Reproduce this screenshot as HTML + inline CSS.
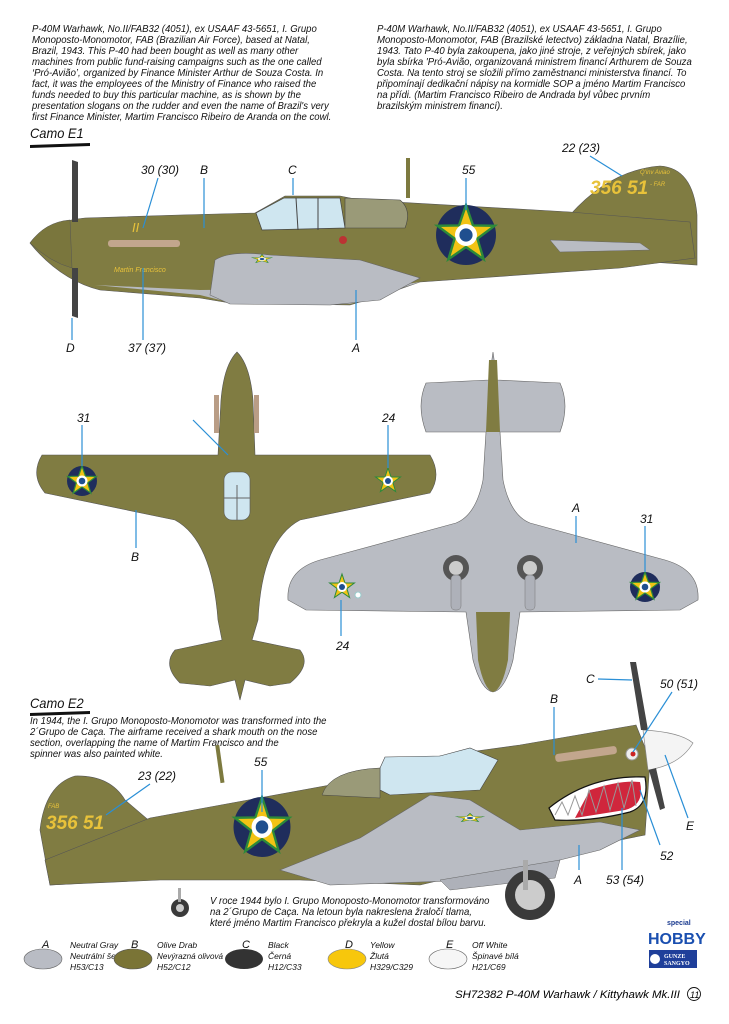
<!DOCTYPE html>
<html><head><meta charset="utf-8"><style>
html,body{margin:0;padding:0;background:#fff}
body{width:729px;height:1024px;position:relative;overflow:hidden;font-family:"Liberation Sans",sans-serif;font-style:italic;color:#111}
.t{position:absolute;font-size:10.4px;line-height:11px;white-space:nowrap;transform:scaleX(0.92);transform-origin:0 0}
svg{position:absolute;left:0;top:0}
</style></head><body>
<div class="t" style="left:32px;top:24px">P-40M Warhawk, No.II/FAB32 (4051), ex USAAF 43-5651, I. Grupo<br>Monoposto-Monomotor, FAB (Brazilian Air Force), based at Natal,<br>Brazil, 1943. This P-40 had been bought as well as many other<br>machines from public fund-raising campaigns such as the one called<br>‘Pró-Avião’, organized by Finance Minister Arthur de Souza Costa. In<br>fact, it was the employees of the Ministry of Finance who raised the<br>funds needed to buy this particular machine, as is shown by the<br>presentation slogans on the rudder and even the name of Brazil's very<br>first Finance Minister, Martim Francisco Ribeiro de Aranda on the cowl.</div>
<div class="t" style="left:377px;top:24px">P-40M Warhawk, No.II/FAB32 (4051), ex USAAF 43-5651, I. Grupo<br>Monoposto-Monomotor, FAB (Brazilské letectvo) základna Natal, Brazílie,<br>1943. Tato P-40 byla zakoupena, jako jiné stroje, z veřejných sbírek, jako<br>byla sbírka 'Pró-Avião, organizovaná ministrem financí Arthurem de Souza<br>Costa. Na tento stroj se složili přímo zaměstnanci ministerstva financí. To<br>připomínají dedikační nápisy na kormidle SOP a jméno Martim Francisco<br>na přídi. (Martim Francisco Ribeiro de Andrada byl vůbec prvním<br>brazilským ministrem financí).</div>
<div class="t" style="left:30px;top:125px;font-size:14px;line-height:16px">Camo E1</div>
<div class="t" style="left:30px;top:695px;font-size:14px;line-height:16px">Camo E2</div>
<div class="t" style="left:30px;top:716px">In 1944, the I. Grupo Monoposto-Monomotor was transformed into the<br>2´Grupo de Caça. The airframe received a shark mouth on the nose<br>section, overlapping the name of Martim Francisco and the<br>spinner was also painted white.</div>
<div class="t" style="left:210px;top:896px">V roce 1944 bylo I. Grupo Monoposto-Monomotor transformováno<br>na 2´Grupo de Caça. Na letoun byla nakreslena žraločí tlama,<br>které jméno Martim Francisco překryla a kužel dostal bílou barvu.</div>

<svg width="729" height="1024" viewBox="0 0 729 1024" font-family="Liberation Sans, sans-serif" font-style="italic">
<defs>
<g id="rnd"><circle r="15" fill="#1f2d5c"/><polygon points="0,-15 3.5,-4.8 14.3,-4.6 5.7,1.8 8.8,12.1 0,6 -8.8,12.1 -5.7,1.8 -14.3,-4.6 -3.5,-4.8" fill="#f2c314" stroke="#2c8a3a" stroke-width="1.2"/><circle r="5.5" fill="#fff"/><circle r="3.3" fill="#1f4f8f"/></g>
<g id="star"><polygon points="0,-13 3,-4 12.4,-4 4.9,1.6 7.6,10.5 0,5.2 -7.6,10.5 -4.9,1.6 -12.4,-4 -3,-4" fill="#f2c314" stroke="#2c8a3a" stroke-width="1"/><circle r="5" fill="#fff"/><circle r="3" fill="#1f4f8f"/></g>
</defs>
<path d="M30 145 L90 143 L90 146 L30 148Z" fill="#111"/>
<path d="M30 713 L90 711 L90 714 L30 716Z" fill="#111"/>

<!-- ===== E1 side view ===== -->
<rect x="406" y="158" width="4" height="40" fill="#7d7a3f"/>
<path d="M570 215 Q610 170 660 166 Q693 168 697 215 L697 265 L650 262 Z" fill="#807c42" stroke="#555" stroke-width="0.6"/>
<path d="M30 243 Q45 222 85 218 L180 215 L255 213 L285 196 L340 196 L360 200 L570 212 L690 222 L695 258 L620 268 L420 282 L380 296 L350 305 L230 303 L200 298 L100 290 Q60 280 30 243Z" fill="#807c42" stroke="#555" stroke-width="0.6"/>
<path d="M30 243 Q45 222 70 220 L72 268 Q50 262 30 243Z" fill="#7a763d" stroke="#555" stroke-width="0.5"/>
<path d="M95 285 L200 295 L220 300 L350 304 L380 295 L420 282 L380 288 L200 290Z" fill="#b7bac1"/>
<path d="M215 260 Q230 250 270 255 L360 260 L420 278 L380 300 L330 305 L230 304 L210 295Z" fill="#b9bcc3" stroke="#666" stroke-width="0.6"/>
<path d="M550 240 L640 243 L650 250 L560 252Z" fill="#b9bcc3" stroke="#666" stroke-width="0.5"/>
<path d="M256 213 L284 198 L340 198 L345 228 L262 230Z" fill="#cfe6f0" stroke="#444" stroke-width="0.7"/>
<path d="M345 198 L400 200 Q412 210 405 228 L345 228Z" fill="#9a9a78" stroke="#444" stroke-width="0.6"/>
<line x1="296" y1="198" x2="298" y2="230" stroke="#444"/><line x1="318" y1="198" x2="318" y2="230" stroke="#444"/>
<rect x="108" y="240" width="72" height="7" rx="3" fill="#c2a68d"/>
<circle cx="343" cy="240" r="4" fill="#b33"/>
<use href="#rnd" transform="translate(466,235) scale(2)"/>
<use href="#star" transform="translate(262,259) scale(0.8,0.35)"/>
<text x="132" y="232" font-size="13" fill="#e8c23a">II</text>
<text x="114" y="272" font-size="7" fill="#e8c23a">Martin Francisco</text>
<text x="590" y="194" font-size="19" fill="#e8c23a" font-weight="bold">356 51</text>
<text x="640" y="174" font-size="6" fill="#e8c23a">Q'inv Aviao</text>
<text x="650" y="186" font-size="6" fill="#e8c23a">- FAR</text>
<path d="M72 160 L78 162 L78 222 L72 222Z M72 268 L78 268 L78 318 L72 316Z" fill="#444"/>
<g font-size="12" fill="#111">
<text x="141" y="174">30 (30)</text><text x="200" y="174">B</text><text x="288" y="174">C</text><text x="462" y="174">55</text><text x="562" y="152">22 (23)</text>
<text x="66" y="352">D</text><text x="128" y="352">37 (37)</text><text x="352" y="352">A</text>
</g>
<g stroke="#2a8fd6" stroke-width="1.2" fill="none">
<path d="M158 178 L143 228"/><path d="M204 178 L204 228"/><path d="M293 178 L293 195"/><path d="M466 178 L466 210"/><path d="M590 156 L622 176"/>
<path d="M72 318 L72 340"/><path d="M143 268 L143 340"/><path d="M356 290 L356 340"/>
</g>

<!-- ===== Top view (olive) ===== -->
<path d="M237 352 Q250 365 253 400 L255 455 L430 455 Q442 475 430 493 L300 520 Q262 540 258 620 L252 640 L300 650 Q312 665 290 683 L270 686 L245 680 L240 700 L235 680 L210 686 L180 683 Q162 665 175 650 L222 640 L218 620 Q212 540 175 520 L45 493 Q30 475 42 455 L218 455 L221 400 Q224 365 237 352Z" fill="#807c42" stroke="#555" stroke-width="0.6"/>
<rect x="224" y="472" width="26" height="48" rx="8" fill="#cfe6f0" stroke="#555" stroke-width="0.6"/>
<line x1="224" y1="498" x2="250" y2="498" stroke="#666"/><line x1="237" y1="485" x2="237" y2="520" stroke="#666"/>
<rect x="214" y="395" width="5" height="38" fill="#b99d86"/><rect x="254" y="395" width="5" height="38" fill="#b99d86"/>
<use href="#rnd" transform="translate(82,481)"/>
<use href="#star" transform="translate(388,481)"/>
<g font-size="12" fill="#111"><text x="77" y="422">31</text><text x="382" y="422">24</text><text x="131" y="561">B</text></g>
<g stroke="#2a8fd6" stroke-width="1.2" fill="none"><path d="M82 425 L82 466"/><path d="M388 425 L388 468"/><path d="M136 510 L136 548"/><path d="M193 420 L228 455"/></g>

<!-- ===== Bottom view (gray) ===== -->
<path d="M493 352 L497 380 L560 383 Q570 405 560 432 L500 432 L503 480 Q510 515 530 523 L665 560 Q700 570 698 600 L680 610 L520 612 L513 660 Q505 690 493 692 Q481 690 473 660 L466 612 L306 610 L288 600 Q286 570 320 560 L456 523 Q476 515 483 480 L486 432 L426 432 Q416 405 426 383 L489 380Z" fill="#b9bcc3" stroke="#666" stroke-width="0.6"/>
<path d="M489 360 L497 360 L500 432 L486 432Z" fill="#807c42"/>
<path d="M476 612 L510 612 L508 660 Q502 690 493 692 Q484 690 478 660Z" fill="#807c42"/>
<circle cx="456" cy="568" r="13" fill="#555"/><circle cx="456" cy="568" r="7" fill="#ccc"/>
<circle cx="530" cy="568" r="13" fill="#555"/><circle cx="530" cy="568" r="7" fill="#ccc"/>
<rect x="451" y="575" width="10" height="35" rx="4" fill="#aeb1b9" stroke="#777" stroke-width="0.5"/>
<rect x="525" y="575" width="10" height="35" rx="4" fill="#aeb1b9" stroke="#777" stroke-width="0.5"/>
<use href="#rnd" transform="translate(645,587)"/>
<use href="#star" transform="translate(342,587)"/>
<circle cx="358" cy="595" r="3" fill="#fff" stroke="#9cc"/>
<g font-size="12" fill="#111"><text x="572" y="512">A</text><text x="640" y="523">31</text><text x="336" y="650">24</text></g>
<g stroke="#2a8fd6" stroke-width="1.2" fill="none"><path d="M576 516 L576 543"/><path d="M645 526 L645 572"/><path d="M341 600 L341 636"/></g>

<!-- ===== E2 side view ===== -->
<rect x="218" y="745" width="4" height="38" fill="#7d7a3f" transform="rotate(-8 220 765)"/>
<path d="M40 830 Q45 785 75 776 Q110 775 125 800 L160 830 L140 880 L50 885Z" fill="#807c42" stroke="#555" stroke-width="0.6"/>
<path d="M45 860 L150 818 L330 785 L380 768 L440 756 L520 745 L636 725 L650 760 L645 835 L560 852 L420 885 L300 880 L160 880 L50 885Z" fill="#807c42" stroke="#555" stroke-width="0.6"/>
<path d="M380 768 L385 757 L440 756 L470 748 L498 760 L480 790 L390 795 L380 790Z" fill="#cfe6f0" stroke="#444" stroke-width="0.6"/>
<path d="M322 795 Q330 770 380 768 L380 798Z" fill="#9a9a78" stroke="#444" stroke-width="0.5"/>
<path d="M280 870 L360 838 L430 795 L470 800 L520 830 L600 822 L640 830 L600 850 L480 880 L330 885 Z" fill="#b9bcc3" stroke="#666" stroke-width="0.6"/>
<path d="M440 880 L560 860 L555 878 L450 890Z" fill="#aeb1b9" stroke="#666" stroke-width="0.5"/>
<path d="M549 808 Q590 775 645 777 Q650 805 630 812 Q590 822 555 820Z" fill="#fff" stroke="#111" stroke-width="1.2"/>
<path d="M575 818 L590 790 Q620 780 640 782 Q645 805 625 810Z" fill="#d0263c"/>
<path d="M555 815 L562 802 L568 815 L575 796 L582 815 L589 790 L596 812 L604 786 L610 810 L618 783 L624 808 L632 780 L636 806" fill="none" stroke="#999" stroke-width="1"/>
<rect x="555" y="750" width="62" height="8" rx="3" fill="#c2a68d" transform="rotate(-8 586 754)"/>
<circle cx="632" cy="754" r="6" fill="#eee" stroke="#999"/><circle cx="633" cy="754" r="2.5" fill="#c22"/>
<path d="M643 730 Q680 732 693 743 Q680 765 648 770Z" fill="#f4f4f4" stroke="#888" stroke-width="0.7"/>
<path d="M630 662 L636 662 L648 730 L641 730Z M649 770 L656 768 L665 808 L660 810Z" fill="#444"/>
<use href="#rnd" transform="translate(262,827) scale(1.9,2)"/>
<use href="#star" transform="translate(470,818) scale(1.1,0.35)"/>
<text x="46" y="829" font-size="19" fill="#e8c23a" font-weight="bold">356 51</text>
<text x="48" y="808" font-size="6" fill="#e8c23a">FAB</text>
<circle cx="530" cy="895" r="25" fill="#3a3a3a"/><circle cx="530" cy="895" r="15" fill="#ccc"/>
<rect x="523" y="860" width="5" height="30" fill="#aaa"/>
<circle cx="180" cy="908" r="9" fill="#3a3a3a"/><circle cx="180" cy="908" r="4" fill="#ccc"/>
<rect x="178" y="888" width="3" height="14" fill="#aaa"/>
<g font-size="12" fill="#111">
<text x="586" y="683">C</text><text x="660" y="688">50 (51)</text><text x="550" y="703">B</text><text x="254" y="766">55</text><text x="138" y="780">23 (22)</text>
<text x="686" y="830">E</text><text x="660" y="860">52</text><text x="574" y="884">A</text><text x="606" y="884">53 (54)</text>
</g>
<g stroke="#2a8fd6" stroke-width="1.2" fill="none">
<path d="M598 679 L632 680"/><path d="M672 692 L633 752"/><path d="M554 707 L554 755"/><path d="M262 770 L262 812"/><path d="M150 784 L106 815"/>
<path d="M665 755 L688 818"/><path d="M640 790 L660 845"/><path d="M579 845 L579 870"/><path d="M622 808 L622 870"/>
</g>

<!-- legend -->
<g font-size="8.5" fill="#111">
<ellipse cx="43" cy="959" rx="19" ry="10" fill="#b9bcc4" stroke="#666" stroke-width="0.6"/><text x="42" y="948" font-size="11">A</text>
<text x="70" y="948">Neutral Gray</text><text x="70" y="959">Neutrální šedá</text><text x="70" y="970">H53/C13</text>
<ellipse cx="133" cy="959" rx="19" ry="10" fill="#7a7436" stroke="#555" stroke-width="0.6"/><text x="131" y="948" font-size="11">B</text>
<text x="157" y="948">Olive Drab</text><text x="157" y="959" textLength="66" lengthAdjust="spacingAndGlyphs">Nevýrazná olivová</text><text x="157" y="970">H52/C12</text>
<ellipse cx="244" cy="959" rx="19" ry="10" fill="#333" /><text x="242" y="948" font-size="11">C</text>
<text x="268" y="948">Black</text><text x="268" y="959">Černá</text><text x="268" y="970">H12/C33</text>
<ellipse cx="347" cy="959" rx="19" ry="10" fill="#f7c70c" stroke="#888" stroke-width="0.6"/><text x="345" y="948" font-size="11">D</text>
<text x="370" y="948">Yellow</text><text x="370" y="959">Žlutá</text><text x="370" y="970">H329/C329</text>
<ellipse cx="448" cy="959" rx="19" ry="10" fill="#f6f6f6" stroke="#666" stroke-width="0.6"/><text x="446" y="948" font-size="11">E</text>
<text x="472" y="948">Off White</text><text x="472" y="959">Špinavé bílá</text><text x="472" y="970">H21/C69</text>
</g>
<text x="667" y="925" font-size="7" fill="#1a3a8f" font-style="normal" font-weight="bold">special</text>
<text x="648" y="944" font-size="16" fill="#1a4fb0" font-style="normal" font-weight="bold">HOBBY</text>
<rect x="649" y="950" width="48" height="18" fill="#1f3f9a"/>
<text x="664" y="958" font-size="6" fill="#fff" font-style="normal" font-family="Liberation Serif" font-weight="bold">GUNZE</text>
<text x="664" y="965" font-size="6" fill="#fff" font-style="normal" font-family="Liberation Serif" font-weight="bold">SANGYO</text>
<circle cx="655" cy="959" r="5" fill="#fff"/>
<text x="455" y="998" font-size="11" textLength="225" lengthAdjust="spacingAndGlyphs">SH72382  P-40M Warhawk / Kittyhawk Mk.III</text>
<circle cx="694" cy="994" r="6.5" fill="none" stroke="#111" stroke-width="0.9"/><text x="690" y="998" font-size="9">11</text>
</svg>
</body></html>
